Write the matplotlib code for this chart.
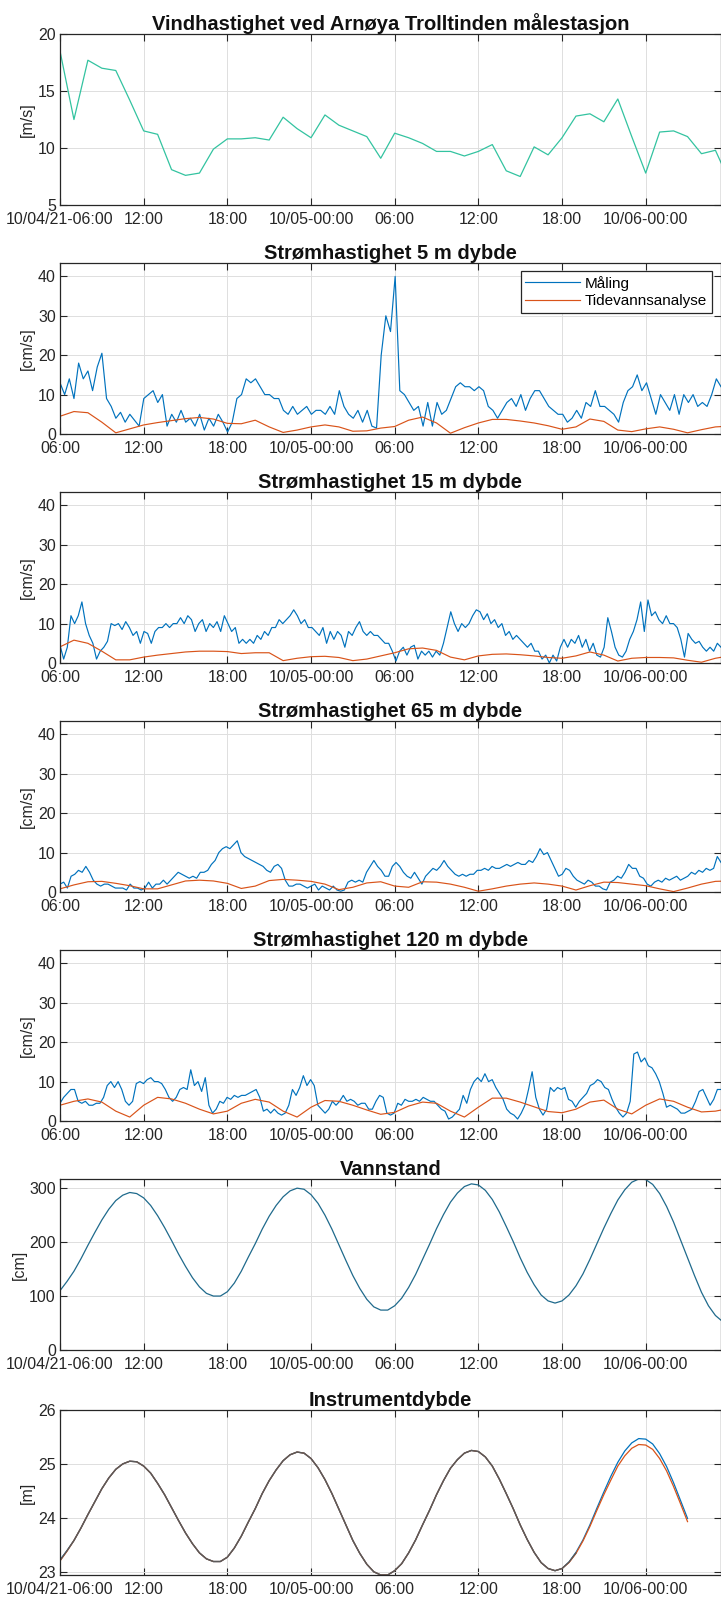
import numpy as np
import matplotlib
matplotlib.use("Agg")
import matplotlib.pyplot as plt

plt.rcParams['font.family'] = ['Liberation Sans', 'DejaVu Sans']

# tid i timer etter 10/04/21-06:00
T_END = 47.4
tick_hours = [0, 6, 12, 18, 24, 30, 36, 42]
labels_long = ['10/04/21-06:00', '12:00', '18:00', '10/05-00:00', '06:00', '12:00', '18:00', '10/06-00:00']
labels_short = ['06:00', '12:00', '18:00', '10/05-00:00', '06:00', '12:00', '18:00', '10/06-00:00']

# vind, timesverdier [m/s]
wind = [18.5, 12.5, 17.7, 17.0, 16.8, 14.2, 11.5, 11.2, 8.1, 7.6, 7.8, 9.9, 10.8, 10.8, 10.9, 10.7,
        12.7, 11.7, 10.9, 12.9, 12.0, 11.5, 11.0, 9.1, 11.3, 10.9, 10.4, 9.7, 9.7, 9.3, 9.7, 10.3,
        8.0, 7.5, 10.1, 9.4, 10.9, 12.8, 13.0, 12.3, 14.3, 11.0, 7.8, 11.4, 11.5, 11.0, 9.5, 9.8, 7.1]

# strøm 5 m [cm/s]
cur5_meas = [13, 10, 14, 9, 18, 14, 16, 11, 17, 20.5, 9, 7, 4, 5.5, 3, 5, 3.5, 2, 9, 10, 11, 8, 10,
             2, 5, 3, 6, 3, 4, 2, 5, 1, 4, 2, 5, 3, 0.5, 3, 9, 10, 14, 13, 14, 12, 10, 10, 9, 9, 6, 5,
             7, 5, 6, 7, 5, 6, 6, 5, 7, 5, 11, 7, 5, 4, 6, 3, 6, 2, 1.5,
             20, 30, 26, 40, 11,
             10, 8, 6, 7, 2, 8, 2, 8, 5, 6, 9, 12, 13, 12, 12, 11, 12, 11, 7, 6, 4, 6, 8, 9, 7, 10, 6,
             9, 11, 11, 9, 7, 6, 5, 5, 3, 4, 6, 4, 8, 7, 11, 7, 7, 6, 5, 3, 8, 11, 12, 15, 11, 13, 9,
             5, 10, 8, 6, 10, 5, 10, 8, 10, 7, 8, 7, 10, 14, 12]
cur5_tide = [4.5, 5.7, 5.4, 3.0, 0.3, 1.3, 2.3, 2.9, 3.4, 3.9, 4.2, 3.8, 2.7, 2.6, 3.5, 1.8, 0.4,
             1.0, 1.8, 2.3, 1.8, 0.7, 0.8, 1.5, 1.9, 3.5, 4.3, 2.8, 0.2, 1.6, 2.8, 3.7, 3.7, 3.3,
             2.8, 2.1, 1.2, 1.8, 3.8, 3.2, 1.0, 0.6, 1.3, 1.8, 1.2, 0.3, 1.1, 1.8, 2.0]

# strøm 15 m
cur15_meas = [4.5, 1, 4, 12, 10, 12, 15.5, 10, 7, 5, 1, 3, 4, 5.5, 10, 9.5, 10, 8.5, 10.5, 9,
              7, 8, 5, 8, 7.5, 5, 8, 9, 9, 10, 9, 10, 10, 11.5, 10, 12, 11, 8, 10, 11,
              8, 10, 9, 10.5, 8, 12, 10, 8, 9, 5, 6, 5, 6, 5, 7, 6, 8, 7, 9, 9,
              11, 10, 11, 12, 13.5, 12, 10, 11, 9, 9, 8, 7, 9, 5, 8, 6, 8, 7, 4, 8,
              7, 9, 10.5, 8, 7, 8, 7, 7, 6, 5, 5, 3, 0.5, 3, 4, 2, 4, 4.5, 1, 3,
              2, 3, 1.5, 3, 2, 5, 9, 13, 10, 8, 10, 9, 10, 12, 13.5, 13, 11, 12.5, 10, 11,
              9, 10, 7, 8, 6, 7, 6, 5, 4, 5, 3, 3, 1, 2, 0, 2, 0.5, 4, 6, 4,
              6, 5, 7, 4, 6, 3, 5, 2, 1.5, 4, 11.5, 8, 4, 2, 1.5, 3, 6, 8, 11, 15.5,
              8, 16, 12, 13, 11, 10, 12, 10, 10, 9, 6, 1.5, 7.5, 6, 5, 5.5, 4, 3, 4, 3, 5, 4]
cur15_tide = [4.1, 5.8, 5.0, 3.0, 0.8, 0.8, 1.5, 2.0, 2.4, 2.8, 3.0, 3.0, 2.9, 2.4, 2.6, 2.6, 0.6,
              1.2, 1.6, 1.7, 1.4, 0.6, 1.0, 1.8, 2.6, 3.6, 3.8, 3.2, 1.5, 0.8, 1.8, 2.2, 2.3, 2.1,
              1.8, 1.4, 1.2, 1.8, 2.8, 2.0, 0.5, 1.2, 1.4, 1.4, 1.3, 0.7, 0.2, 1.2, 1.8]

# strøm 65 m
cur65_meas = [2, 2.5, 1, 4, 4.5, 5.5, 5, 6.5, 5, 3, 2, 1.5, 2, 2, 1.5, 1, 1, 1, 0.5, 2,
              1, 1, 0.5, 1, 2.5, 1, 2, 2, 3, 2, 3, 4, 5, 4.5, 4, 3.5, 4, 3.5, 5, 5,
              5.5, 7, 8, 10, 11, 11.5, 11, 12, 13, 10, 9, 8.5, 8, 7.5, 7, 6.5, 5.5, 5, 6.5, 7,
              6, 3, 1.5, 1.5, 2, 2, 1.5, 1, 1.5, 2, 0.5, 1.5, 1, 0.5, 1.5, 0.5, 0.2, 0.5, 2.5, 3,
              2.5, 3, 2.5, 5, 6.5, 8, 6.5, 5.5, 4, 4, 6.5, 7.5, 6.5, 5, 4, 3.5, 5, 3.5, 2, 4,
              5, 6, 5.5, 6.5, 8, 6.5, 5.5, 4.5, 4, 4.5, 4, 4.5, 4.5, 5.5, 5.5, 6, 5.5, 6.5, 6, 6,
              6.5, 7, 6.5, 7, 7.5, 7, 7, 8, 7.5, 9, 11, 9.5, 10, 8, 6, 4, 4.5, 6, 5.5, 4,
              3, 2.5, 2, 3, 2.5, 1.5, 1.5, 0.8, 0.5, 2.5, 3, 4, 3.5, 5, 7, 6, 6, 4, 3.5, 2,
              1.5, 2.5, 3, 2.5, 3.5, 3, 3.5, 4, 3, 3.5, 4, 5, 4.5, 5.5, 5, 6, 5.5, 6, 9, 7.5]
cur65_tide = [0.8, 1.8, 2.6, 2.7, 2.2, 1.6, 0.8, 0.8, 1.8, 2.8, 3.0, 2.8, 2.2, 0.9, 1.5, 2.9, 3.2,
              3.0, 2.7, 2.0, 0.6, 1.2, 2.3, 2.6, 1.5, 1.2, 2.6, 2.5, 2.0, 1.2, 0.2, 0.8, 1.5, 2.0,
              2.3, 2.0, 1.5, 0.5, 1.6, 2.5, 2.4, 2.0, 1.6, 0.8, 0.1, 1.0, 2.0, 2.7, 2.8]

# strøm 120 m
cur120_meas = [4.5, 6, 7, 8, 8, 5, 4.5, 5, 4, 4, 4.5, 4.5, 6, 9, 10, 8.5, 10, 8, 5, 4,
               5, 9.5, 10, 9.5, 10.5, 11, 10, 10, 9.5, 8, 6, 5, 6, 8, 8.5, 8, 13, 9, 10, 7.5,
               11, 4, 2, 3, 5, 4.5, 6, 5.5, 6.5, 6, 6.5, 6.5, 7, 7.5, 8, 6, 2.5, 3, 2, 3,
               2, 1.5, 2, 4, 8, 6.5, 8.5, 11.5, 9, 10.5, 9, 4, 3, 2, 3, 5, 4, 5, 6.5, 5,
               5.5, 5, 4, 4.5, 4.5, 3, 3, 5, 6.5, 6, 2, 1.5, 2, 4.5, 4, 5.5, 5, 5, 5.5, 5,
               6, 5.5, 5, 5, 4, 3, 2.5, 0.5, 1, 2, 3, 6.5, 4.5, 8, 10, 11, 10, 12, 10, 10.5,
               8.5, 7, 5.5, 3, 2, 1.5, 0.5, 2, 4, 8, 12.5, 6, 3, 1.5, 3, 8.5, 7.5, 8.5, 8, 8.5,
               5.5, 5, 3.5, 5, 6, 7, 9, 9.5, 10.5, 10, 8.5, 8, 5.5, 3.5, 2, 1, 2, 5, 17, 17.5,
               15, 16, 14, 13.5, 12, 10, 7, 3.5, 4, 3.5, 3, 2, 2, 2.5, 3, 5, 7.5, 8, 6, 4,
               5.5, 8, 8]
cur120_tide = [4.0, 5.0, 5.6, 4.8, 2.5, 1.0, 4.0, 6.0, 5.6, 4.5, 3.0, 1.8, 2.5, 4.5, 5.5, 4.8,
               2.5, 1.0, 3.5, 5.2, 5.0, 4.0, 2.8, 1.7, 2.2, 3.8, 4.8, 4.5, 2.5, 1.0, 3.5, 5.8,
               5.8, 4.8, 3.6, 2.4, 2.1, 3.0, 4.8, 5.3, 3.0, 1.8, 4.0, 5.6, 5.0, 3.5, 2.3, 2.5, 3.2]

# vannstand [cm], halvtimesverdier
water_level = [110, 127, 146, 169, 194, 218, 241, 261, 277, 287,
               292, 290, 282, 268, 249, 227, 203, 178, 155, 134,
               117, 105, 100, 100, 108, 124, 146, 172, 197, 224,
               248, 268, 284, 295, 300, 298, 288, 272, 250, 224,
               195, 166, 138, 114, 94, 80, 74, 74, 82, 96,
               116, 140, 168, 196, 225, 251, 274, 291, 303, 308,
               306, 296, 279, 256, 229, 201, 171, 144, 121, 102,
               91, 87, 91, 102, 119, 141, 168, 197, 226, 253,
               278, 297, 311, 317, 316, 307, 290, 266, 237, 204,
               171, 138, 107, 82, 64, 53]

# instrumentdybde [m], halvtimesverdier
depth_meas = [23.22, 23.39, 23.58, 23.81, 24.06, 24.30, 24.54, 24.74, 24.90, 25.00,
              25.05, 25.04, 24.96, 24.83, 24.64, 24.43, 24.19, 23.95, 23.72, 23.52,
              23.35, 23.24, 23.19, 23.19, 23.27, 23.44, 23.66, 23.92, 24.17, 24.45,
              24.69, 24.89, 25.06, 25.17, 25.22, 25.20, 25.10, 24.93, 24.71, 24.45,
              24.16, 23.87, 23.58, 23.34, 23.14, 23.00, 22.94, 22.94, 23.02, 23.15,
              23.35, 23.59, 23.87, 24.14, 24.43, 24.69, 24.92, 25.08, 25.20, 25.25,
              25.23, 25.13, 24.96, 24.72, 24.45, 24.17, 23.87, 23.60, 23.36, 23.17,
              23.06, 23.02, 23.06, 23.18, 23.36, 23.59, 23.87, 24.18, 24.48, 24.77,
              25.03, 25.24, 25.39, 25.47, 25.46, 25.37, 25.19, 24.95, 24.65, 24.32, 23.99]
depth_tide = [23.20, 23.38, 23.58, 23.81, 24.06, 24.30, 24.54, 24.74, 24.90, 25.00,
              25.05, 25.04, 24.96, 24.83, 24.64, 24.43, 24.19, 23.95, 23.72, 23.52,
              23.35, 23.24, 23.19, 23.19, 23.27, 23.44, 23.66, 23.92, 24.17, 24.45,
              24.69, 24.89, 25.06, 25.17, 25.22, 25.20, 25.10, 24.93, 24.71, 24.45,
              24.16, 23.87, 23.58, 23.34, 23.14, 23.00, 22.94, 22.94, 23.02, 23.15,
              23.35, 23.59, 23.87, 24.14, 24.43, 24.69, 24.92, 25.08, 25.20, 25.25,
              25.23, 25.13, 24.96, 24.72, 24.45, 24.17, 23.87, 23.60, 23.36, 23.17,
              23.06, 23.02, 23.06, 23.17, 23.34, 23.57, 23.84, 24.14, 24.43, 24.70,
              24.96, 25.15, 25.29, 25.36, 25.35, 25.27, 25.10, 24.87, 24.58, 24.26, 23.93]
depth_gray = [23.21, 23.39, 23.58, 23.81, 24.06, 24.30, 24.54, 24.74, 24.90, 25.00,
              25.05, 25.04, 24.96, 24.83, 24.64, 24.43, 24.19, 23.95, 23.72, 23.52,
              23.35, 23.24, 23.19, 23.19, 23.27, 23.44, 23.66, 23.92, 24.17, 24.45,
              24.69, 24.89, 25.06, 25.17, 25.22, 25.20, 25.10, 24.93, 24.71, 24.45,
              24.16, 23.87, 23.58, 23.34, 23.14, 23.00, 22.94, 22.94, 23.02, 23.15,
              23.35, 23.59, 23.87, 24.14, 24.43, 24.69, 24.92, 25.08, 25.20, 25.25,
              25.23, 25.13, 24.96, 24.72, 24.45, 24.17, 23.87, 23.60, 23.36, 23.17,
              23.06, 23.02, 23.06, 23.18, 23.35]

BLUE = '#0072BD'
ORANGE = '#D95319'
W, H = 721, 1602

fig = plt.figure(figsize=(W / 100, H / 100), dpi=100)

# bunn (px fra toppen) og høyde for hvert panel
bottoms = [205, 434, 663, 892, 1121, 1350, 1575]
heights = [171, 171, 171, 171, 171, 171, 165]
axes = []
for b, h in zip(bottoms, heights):
    axes.append(fig.add_axes([60 / W, 1 - b / H, 661 / W, h / H]))


def style(ax, title, ylabel, yticks, ylim, xlabels):
    ax.set_xlim(0, T_END)
    ax.set_ylim(*ylim)
    ax.set_yticks(yticks)
    ax.set_xticks(tick_hours)
    ax.set_xticklabels(xlabels)
    ax.grid(True, color='#dedede', lw=0.7)
    ax.set_axisbelow(True)
    ax.tick_params(direction='in', top=True, right=True, length=5, width=0.8,
                   color='#262626', labelcolor='#262626', labelsize=11.5, pad=3)
    ax.tick_params(axis='x', pad=5)
    for s in ax.spines.values():
        s.set_color('#262626')
        s.set_linewidth(0.9)
    ax.set_title(title, fontsize=14.5, fontweight='bold', pad=3, color='#111111')
    ax.set_ylabel(ylabel, fontsize=11.5, labelpad=2, color='#262626')


def hours(vals, step=1.0, t_end=None):
    if t_end is not None:
        return np.linspace(0, t_end, len(vals))
    return np.arange(len(vals)) * step


# vind
ax = axes[0]
ax.plot(hours(wind), wind, color='#33c3a0', lw=0.9)
style(ax, 'Vindhastighet ved Arnøya Trolltinden målestasjon', '[m/s]',
      [5, 10, 15, 20], (5, 20), labels_long)

# strøm
currents = [
    ('Strømhastighet 5 m dybde', cur5_meas, cur5_tide),
    ('Strømhastighet 15 m dybde', cur15_meas, cur15_tide),
    ('Strømhastighet 65 m dybde', cur65_meas, cur65_tide),
    ('Strømhastighet 120 m dybde', cur120_meas, cur120_tide),
]
for i, (title, meas, tide) in enumerate(currents):
    ax = axes[i + 1]
    ax.plot(hours(meas, t_end=T_END), meas, color=BLUE, lw=0.85, label='Måling')
    ax.plot(hours(tide), tide, color=ORANGE, lw=0.85, label='Tidevannsanalyse')
    style(ax, title, '[cm/s]', [0, 10, 20, 30, 40], (0, 43.4), labels_short)
    if i == 0:
        leg = ax.legend(loc='upper right', bbox_to_anchor=(0.986, 0.953), borderaxespad=0,
                        fontsize=11, handlelength=3.6, handletextpad=0.3, borderpad=0.3,
                        labelspacing=0.25, fancybox=False, framealpha=1)
        leg.get_frame().set_edgecolor('#262626')
        leg.get_frame().set_linewidth(0.9)

# vannstand
ax = axes[5]
ax.plot(hours(water_level, 0.5), water_level, color='#1f6a8c', lw=0.9)
style(ax, 'Vannstand', '[cm]', [0, 100, 200, 300], (0, 317), labels_long)

# instrumentdybde
ax = axes[6]
ax.plot(hours(depth_meas, 0.5), depth_meas, color=BLUE, lw=0.9)
ax.plot(hours(depth_tide, 0.5), depth_tide, color=ORANGE, lw=0.9)
ax.plot(hours(depth_gray, 0.5), depth_gray, color='#5a5a5a', lw=1.0)
style(ax, 'Instrumentdybde', '[m]', [23, 24, 25, 26], (22.94, 26), labels_long)

fig.savefig('out.png', dpi=100, facecolor='white')
